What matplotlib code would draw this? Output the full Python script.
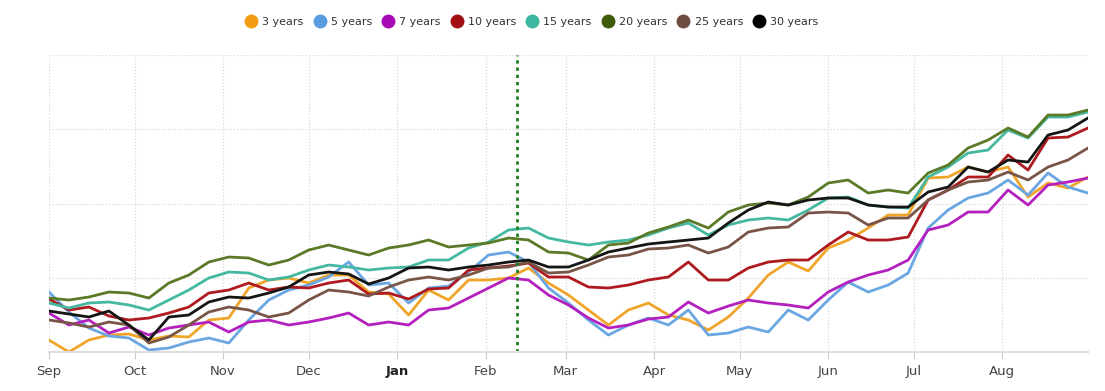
import numpy as np
import pandas as pd
import matplotlib
matplotlib.use("Agg")
import matplotlib.pyplot as plt
import matplotlib.dates as mdates
from matplotlib.lines import Line2D

# weekly readings, Sep 1 to Aug 31 (height above the chart floor)
dates = pd.date_range("2022-09-01", periods=53, freq="7D")

y3 = [12, 0, 12, 17, 18, 12, 16, 15, 32, 34, 64, 72, 74, 69, 77, 77, 60, 58, 37, 62, 52, 72, 72, 74, 84, 69,
      57, 42, 27, 42, 49, 37, 32, 22, 35, 54, 77, 90, 81, 104, 112, 124, 137, 137, 174, 175, 185, 180, 185, 155,
      169, 164, 175]
y5 = [60, 40, 24, 16, 14, 2, 4, 10, 14, 9, 32, 52, 62, 67, 75, 90, 67, 69, 49, 64, 66, 80, 97, 100, 90, 64,
      49, 32, 17, 27, 34, 27, 42, 17, 19, 25, 20, 42, 32, 52, 70, 60, 67, 79, 124, 142, 154, 159, 172, 157,
      179, 165, 159]
y7 = [39, 27, 32, 19, 25, 17, 24, 27, 30, 20, 30, 32, 27, 30, 34, 39, 27, 30, 27, 42, 44, 54, 64, 74, 72, 57,
      47, 34, 24, 27, 33, 35, 50, 39, 46, 52, 49, 47, 44, 60, 70, 77, 82, 92, 122, 127, 140, 140, 162, 147,
      167, 170, 174]
y10 = [53, 42, 45, 36, 32, 34, 39, 45, 59, 62, 69, 62, 65, 64, 69, 72, 58, 59, 53, 63, 64, 82, 84, 86, 89, 75,
       75, 65, 64, 67, 72, 75, 90, 72, 72, 84, 90, 92, 92, 107, 120, 112, 112, 115, 152, 162, 175, 175, 197, 182,
       214, 215, 224]
y15 = [49, 44, 49, 50, 47, 42, 52, 62, 74, 80, 79, 72, 75, 82, 87, 85, 82, 84, 85, 92, 92, 104, 110, 122, 124,
       114, 110, 107, 110, 112, 117, 124, 129, 117, 127, 132, 134, 132, 142, 154, 155, 147, 145, 144, 175, 185,
       199, 202, 222, 214, 235, 235, 240]
y20 = [54, 52, 55, 60, 59, 54, 69, 77, 90, 95, 94, 87, 92, 102, 107, 102, 97, 104, 107, 112, 105, 107, 109, 114,
       112, 100, 99, 92, 107, 109, 119, 125, 132, 124, 140, 147, 149, 147, 155, 169, 172, 159, 162, 159, 179, 187,
       204, 212, 224, 215, 237, 237, 242]
y25 = [32, 29, 25, 30, 27, 9, 15, 27, 40, 45, 42, 35, 39, 52, 62, 60, 56, 65, 72, 75, 72, 77, 84, 85, 90, 79,
       80, 87, 95, 97, 103, 104, 107, 99, 105, 120, 124, 125, 139, 140, 139, 127, 134, 134, 152, 162, 170, 172,
       180, 172, 185, 192, 204]
y30 = [41, 38, 35, 41, 27, 12, 35, 37, 50, 55, 54, 59, 65, 77, 80, 78, 68, 74, 84, 85, 82, 85, 87, 90, 92, 85,
       85, 92, 100, 104, 108, 110, 112, 114, 129, 142, 150, 147, 152, 154, 154, 147, 145, 145, 160, 165, 185, 180,
       192, 190, 217, 222, 234]

labels = ["3 years", "5 years", "7 years", "10 years", "15 years", "20 years", "25 years", "30 years"]
series = [y3, y5, y7, y10, y15, y20, y25, y30]
colors = ["#F0A52A", "#6AA6E2", "#B320BE", "#AE1A1E", "#45B8A2", "#5A7A28", "#795548", "#151515"]
marker_colors = ["#F29D12", "#5B9BE0", "#A80BB5", "#A10F14", "#3DB6A0", "#3E5B09", "#6D4C41", "#000000"]
event_date = pd.Timestamp("2023-02-12")

fig = plt.figure(figsize=(11.05, 3.91), dpi=100)
ax = fig.add_axes([0.0443, 0.0997, 0.9403, 0.7596])

for vals, c in zip(series, colors):
    ax.plot(dates, vals, color=c, lw=2.0, solid_joinstyle="round")

ax.axvline(event_date, color="#1E7F1E", lw=2, linestyle=(0, (1.2, 1.4)))

ax.set_xlim(pd.Timestamp("2022-09-01"), pd.Timestamp("2023-08-31"))
ax.set_ylim(0, 297)
ax.set_yticks(np.linspace(0, 297, 5))
ax.set_yticklabels([])
ax.tick_params(axis="y", length=0)

ax.xaxis.set_major_locator(mdates.MonthLocator())
ax.xaxis.set_major_formatter(mdates.DateFormatter("%b"))
ax.tick_params(axis="x", length=5, color="#cccccc", labelsize=9.5, labelcolor="#444444", pad=4)
for t in ax.get_xticklabels():
    if t.get_text() == "Jan":
        t.set_fontweight("bold")
        t.set_color("#222222")

ax.grid(True, color="#d9d9d9", linestyle=(0, (1, 1.5)), lw=0.9)
for s in ["top", "right", "left"]:
    ax.spines[s].set_visible(False)
ax.spines["bottom"].set_color("#dddddd")
ax.spines["bottom"].set_linewidth(1.5)

handles = [Line2D([], [], marker="o", linestyle="none", markersize=9, markerfacecolor=mc,
                  markeredgecolor=mc) for mc in marker_colors]
fig.legend(handles, labels, loc="center", bbox_to_anchor=(0.479, 0.943), ncol=8, frameon=False,
           fontsize=8, handletextpad=0.0, columnspacing=0.45, labelcolor="#333333")

fig.savefig("out.png", dpi=100)
